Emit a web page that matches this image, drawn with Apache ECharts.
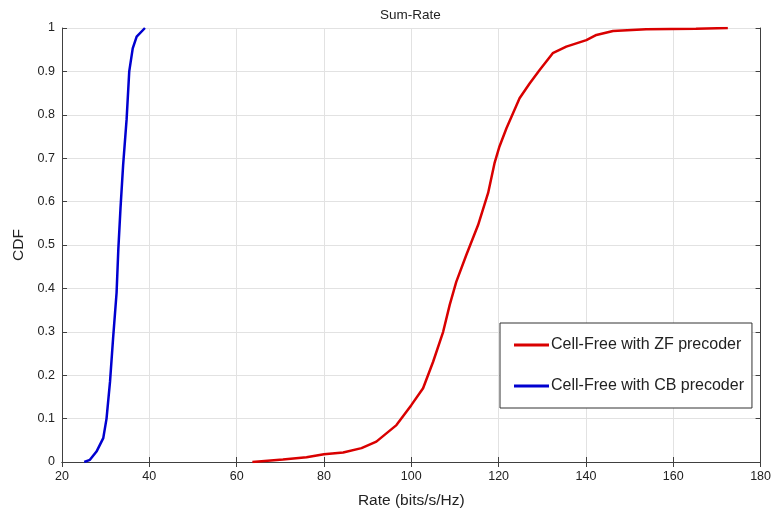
<!DOCTYPE html>
<html>
<head>
<meta charset="utf-8">
<script src="https://cdn.jsdelivr.net/npm/echarts@6/dist/echarts.min.js"></script>
<style>html,body{margin:0;padding:0;background:#fff;}#c{width:774px;height:514px;}</style>
</head>
<body>
<div id="c"></div>
<script>
const xTicks = [20, 40, 60, 80, 100, 120, 140, 160, 180];
const yTicks = [0, 0.1, 0.2, 0.3, 0.4, 0.5, 0.6, 0.7, 0.8, 0.9, 1];
const seriesNames = ['Cell-Free with ZF precoder', 'Cell-Free with CB precoder'];
const zfRate = [63.6, 70.6, 76, 80, 84.4, 88.6, 92, 96.6, 100, 102.7, 105, 107.3, 108.8, 110.3, 112.6, 115.3, 117.6, 119.1, 120.2, 121.8, 124.8, 127.1, 129.4, 132.4, 135.5, 140.1, 142.4, 146.2, 153.8, 165.2, 172.5];
const zfCdf  = [0, 0.006, 0.011, 0.018, 0.022, 0.032, 0.047, 0.085, 0.131, 0.17, 0.231, 0.30, 0.362, 0.415, 0.477, 0.546, 0.62, 0.69, 0.727, 0.769, 0.838, 0.872, 0.903, 0.942, 0.957, 0.972, 0.984, 0.993, 0.997, 0.998, 1.0];
const cbRate = [25.1, 26.4, 27.9, 29.45, 30.2, 31.0, 31.7, 32.5, 32.9, 33.4, 34.0, 34.8, 35.4, 36.2, 37.1, 39.0];
const cbCdf  = [0, 0.005, 0.024, 0.055, 0.10, 0.185, 0.285, 0.39, 0.49, 0.585, 0.684, 0.79, 0.90, 0.953, 0.98, 1.0];

const font = 'Liberation Sans, Arial, sans-serif';
const zip = (a, b) => a.map((v, i) => [v, b[i]]);
const axisCol = '#404040';
const chart = echarts.init(document.getElementById('c'));
chart.setOption({
  animation: false,
  backgroundColor: '#fff',
  title: {
    text: 'Sum-Rate', left: 375, top: 3,
    textStyle: { fontFamily: font, fontSize: 13.5, fontWeight: 'normal', color: '#222' }
  },
  grid: { left: 62, right: 13, top: 28, bottom: 52 },
  legend: {
    orient: 'vertical', left: 500, top: 323,
    backgroundColor: '#fff', borderColor: '#333', borderWidth: 1,
    padding: [14, 8, 14, 14], itemGap: 25,
    icon: 'rect', itemWidth: 35, itemHeight: 3,
    textStyle: { fontFamily: font, fontSize: 16, lineHeight: 16, color: '#222', padding: [0, 0, 0, -3] },
    data: seriesNames
  },
  xAxis: [{
    type: 'value', min: xTicks[0], max: xTicks[xTicks.length - 1], interval: 20,
    name: 'Rate (bits/s/Hz)', nameLocation: 'middle', nameGap: 31,
    nameTextStyle: { fontFamily: font, fontSize: 15.5, color: '#222' },
    axisLine: { show: true, lineStyle: { color: axisCol, width: 1 } },
    axisTick: { show: true, inside: true, length: 5, lineStyle: { color: axisCol } },
    axisLabel: { fontFamily: font, fontSize: 12.5, color: '#222', margin: 8 },
    splitLine: { show: true, lineStyle: { color: '#e2e2e2', width: 1 } }
  }, {
    type: 'value', position: 'top', min: xTicks[0], max: xTicks[xTicks.length - 1], interval: 20,
    axisLine: { show: true, lineStyle: { color: axisCol, width: 1 } },
    axisTick: { show: true, inside: true, length: 5, lineStyle: { color: axisCol } },
    axisLabel: { show: false }, splitLine: { show: false }
  }],
  yAxis: [{
    type: 'value', min: yTicks[0], max: yTicks[yTicks.length - 1], interval: 0.1,
    name: 'CDF', nameLocation: 'middle', nameGap: 33,
    nameTextStyle: { fontFamily: font, fontSize: 15.5, color: '#222' },
    axisLine: { show: true, lineStyle: { color: axisCol, width: 1 } },
    axisTick: { show: true, inside: true, length: 5, lineStyle: { color: axisCol } },
    axisLabel: { fontFamily: font, fontSize: 12.5, color: '#222', margin: 7,
      formatter: v => String(Math.round(v * 10) / 10) },
    splitLine: { show: true, lineStyle: { color: '#e2e2e2', width: 1 } }
  }, {
    type: 'value', position: 'right', min: yTicks[0], max: yTicks[yTicks.length - 1], interval: 0.1,
    axisLine: { show: true, lineStyle: { color: axisCol, width: 1 } },
    axisTick: { show: true, inside: true, length: 5, lineStyle: { color: axisCol } },
    axisLabel: { show: false }, splitLine: { show: false }
  }],
  series: [{
    name: seriesNames[0], type: 'line', data: zip(zfRate, zfCdf),
    showSymbol: false, symbol: 'none', smooth: false,
    lineStyle: { color: '#d90000', width: 2.5 }, itemStyle: { color: '#d90000' }
  }, {
    name: seriesNames[1], type: 'line', data: zip(cbRate, cbCdf),
    showSymbol: false, symbol: 'none', smooth: false,
    lineStyle: { color: '#0000d0', width: 2.5 }, itemStyle: { color: '#0000d0' }
  }]
});
</script>
</body>
</html>
